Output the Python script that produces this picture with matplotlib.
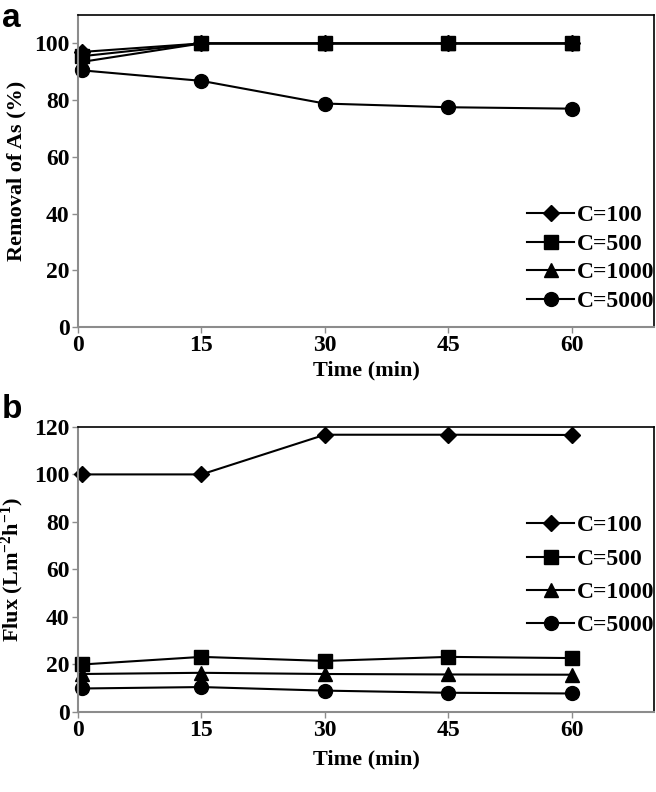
import matplotlib
matplotlib.use('Agg')
import matplotlib.pyplot as plt

# === DADOS ===
tempo = [0.5, 15, 30, 45, 60]
legendas = ['C=100', 'C=500', 'C=1000', 'C=5000']
marcadores = ['D', 's', '^', 'o']
tam_marc = [8, 10, 10, 10]

remocao_100 = [97.0, 100, 100, 100, 100]
remocao_500 = [95.5, 100, 100, 100, 100]
remocao_1000 = [93.5, 100, 100, 100, 100]
remocao_5000 = [90.5, 86.8, 78.8, 77.5, 77.0]

fluxo_100 = [100, 100, 116.7, 116.7, 116.6]
fluxo_500 = [20.0, 23.2, 21.5, 23.2, 22.7]
fluxo_1000 = [16.0, 16.5, 16.0, 15.8, 15.7]
fluxo_5000 = [9.9, 10.5, 9.0, 8.1, 7.8]

x_ticks = [0, 15, 30, 45, 60]

plt.rcParams['font.family'] = ['Liberation Serif', 'DejaVu Serif']
plt.rcParams['font.weight'] = 'bold'
plt.rcParams['mathtext.fontset'] = 'custom'
plt.rcParams['mathtext.rm'] = 'Liberation Serif:bold'
plt.rcParams['mathtext.bf'] = 'Liberation Serif:bold'
plt.rcParams['mathtext.default'] = 'bf'

fig = plt.figure(figsize=(6.56, 7.92), dpi=100)
ax1 = fig.add_axes([0.119, 0.587, 0.878, 0.394])
ax2 = fig.add_axes([0.119, 0.101, 0.878, 0.360])

CINZA = '#8c8c8c'


def estilo(ax, ylim, yticks, ylabel, pad_x):
    ax.set_xlim(0, 70)
    ax.set_ylim(*ylim)
    ax.set_xticks(x_ticks)
    ax.set_yticks(yticks)
    ax.tick_params(labelsize=17, length=4, width=1, color=CINZA, pad=2)
    for lab in ax.get_xticklabels() + ax.get_yticklabels():
        lab.set_fontweight('bold')
    ax.spines['left'].set_color(CINZA)
    ax.spines['bottom'].set_color(CINZA)
    ax.spines['left'].set_linewidth(1.5)
    ax.spines['bottom'].set_linewidth(1.5)
    ax.spines['top'].set_linewidth(1.2)
    ax.spines['right'].set_linewidth(1.2)
    ax.set_xlabel('Time (min)', fontsize=16, fontweight='bold', labelpad=pad_x)
    ax.set_ylabel(ylabel, fontsize=16, fontweight='bold', labelpad=6)


# Gráfico a
series_a = [remocao_100, remocao_500, remocao_1000, remocao_5000]
for serie, lab, m, ms in zip(series_a, legendas, marcadores, tam_marc):
    ax1.plot(tempo, serie, color='black', marker=m, markersize=ms, linewidth=1.5,
             label=lab, clip_on=False)
estilo(ax1, (0, 110), [0, 20, 40, 60, 80, 100], 'Removal of As (%)', 3)
ax1.legend(loc='lower right', bbox_to_anchor=(1.025, 0.003), frameon=False,
           prop={'weight': 'bold', 'size': 17}, handlelength=2.0,
           handletextpad=0.1, labelspacing=0.3, borderaxespad=0.2)

# Gráfico b
series_b = [fluxo_100, fluxo_500, fluxo_1000, fluxo_5000]
for serie, lab, m, ms in zip(series_b, legendas, marcadores, tam_marc):
    ax2.plot(tempo, serie, color='black', marker=m, markersize=ms, linewidth=1.5,
             label=lab, clip_on=False)
estilo(ax2, (0, 120), [0, 20, 40, 60, 80, 100, 120], 'Flux (Lm$^{-2}$h$^{-1}$)', 6)
ax2.legend(loc='center right', bbox_to_anchor=(1.025, 0.478), frameon=False,
           prop={'weight': 'bold', 'size': 17}, handlelength=2.0,
           handletextpad=0.1, labelspacing=0.5, borderaxespad=0.2)

fig.text(0.003, 0.996, 'a', fontsize=24, fontweight='bold', family='Liberation Sans',
         va='top', ha='left')
fig.text(0.003, 0.502, 'b', fontsize=24, fontweight='bold', family='Liberation Sans',
         va='top', ha='left')

fig.savefig('out.png', dpi=100)
